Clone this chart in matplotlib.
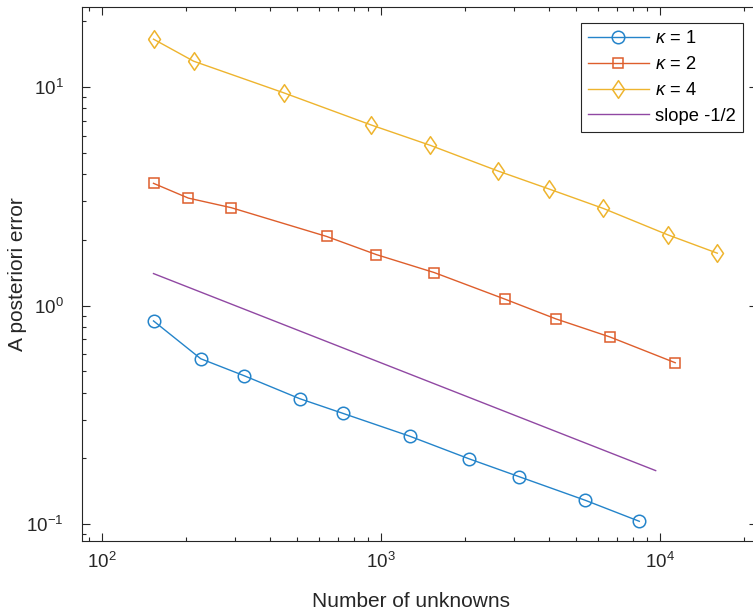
import numpy as np
import matplotlib
matplotlib.use("Agg")
import matplotlib.pyplot as plt
from matplotlib.ticker import LogLocator, NullFormatter

plt.rcParams['font.family'] = ['Liberation Sans', 'DejaVu Sans']
plt.rcParams['mathtext.fontset'] = 'custom'
plt.rcParams['mathtext.rm'] = 'Liberation Sans'
plt.rcParams['mathtext.it'] = 'Liberation Sans:italic'

# data
n_k1 = [153, 226, 324, 511, 731, 1267, 2072, 3123, 5399, 8430]
err_k1 = [0.851, 0.571, 0.477, 0.375, 0.321, 0.2525, 0.1987, 0.1648, 0.1284, 0.1029]

n_k2 = [153, 204, 291, 639, 962, 1552, 2790, 4240, 6618, 11340]
err_k2 = [3.63, 3.107, 2.807, 2.073, 1.713, 1.417, 1.069, 0.869, 0.7185, 0.5476]

n_k4 = [153, 213, 449, 921, 1502, 2633, 4001, 6264, 10657, 16050]
err_k4 = [16.6, 13.16, 9.42, 6.72, 5.42, 4.13, 3.42, 2.786, 2.11, 1.738]

n_slope = [153, 9650]
err_slope = [1.402, 0.1756]

labels = [r'$\kappa$ = 1', r'$\kappa$ = 2', r'$\kappa$ = 4', 'slope -1/2']
colors = ['#2484CA', '#DE5E2C', '#EEB42E', '#9048A3']

diamond = [(-0.34, 0), (0, 0.5), (0.34, 0), (0, -0.5), (-0.34, 0)]

fig = plt.figure(figsize=(7.53, 6.14), dpi=100)
ax = fig.add_axes([82 / 753, 1 - 541 / 614, (757 - 82) / 753, (541 - 7) / 614])

ax.loglog(n_k1, err_k1, '-', marker='o', color=colors[0], lw=1.0, ms=9,
          mfc='none', mew=1.1, label=labels[0])
ax.loglog(n_k2, err_k2, '-', marker='s', color=colors[1], lw=1.0, ms=7.5,
          mfc='none', mew=1.1, label=labels[1])
ax.loglog(n_k4, err_k4, '-', marker=diamond, color=colors[2], lw=1.0, ms=12.7,
          mfc='none', mew=1.1, label=labels[2])
ax.loglog(n_slope, err_slope, '-', color=colors[3], lw=1.0, label=labels[3])

ax.set_xlim(84.8, 22270)
ax.set_ylim(0.0836, 23.3)

ax.xaxis.set_major_locator(LogLocator(base=10, numticks=10))
ax.xaxis.set_minor_locator(LogLocator(base=10, subs=np.arange(2, 10), numticks=20))
ax.yaxis.set_minor_locator(LogLocator(base=10, subs=np.arange(2, 10), numticks=20))
ax.xaxis.set_minor_formatter(NullFormatter())
ax.yaxis.set_minor_formatter(NullFormatter())

axcol = '#262626'
for s in ax.spines.values():
    s.set_color(axcol)
    s.set_linewidth(0.8)
ax.tick_params(which='both', direction='in', top=True, right=True,
               color=axcol, labelcolor=axcol, width=0.8)
ax.tick_params(which='major', length=5.5, labelsize=13.5)
ax.tick_params(axis='x', which='major', pad=8)
ax.tick_params(axis='y', which='major', pad=13)
ax.tick_params(which='minor', length=3)

ax.set_xlabel('Number of unknowns', fontsize=15, color=axcol)
ax.set_ylabel('A posteriori error', fontsize=15, color=axcol)
ax.xaxis.set_label_coords(0.487, -0.096)
ax.yaxis.set_label_coords(-0.081, 0.5)

leg = ax.legend(loc='upper right', bbox_to_anchor=(743 / 753, 1 - 23 / 614),
                bbox_transform=fig.transFigure, borderaxespad=0, fontsize=13.2,
                handlelength=3.3, handletextpad=0.35, labelspacing=0.48,
                borderpad=0.4, fancybox=False, framealpha=1)
leg.get_frame().set_edgecolor(axcol)
leg.get_frame().set_linewidth(0.8)
for t in leg.get_texts():
    t.set_color('#000000')

fig.savefig('out.png', dpi=100)
